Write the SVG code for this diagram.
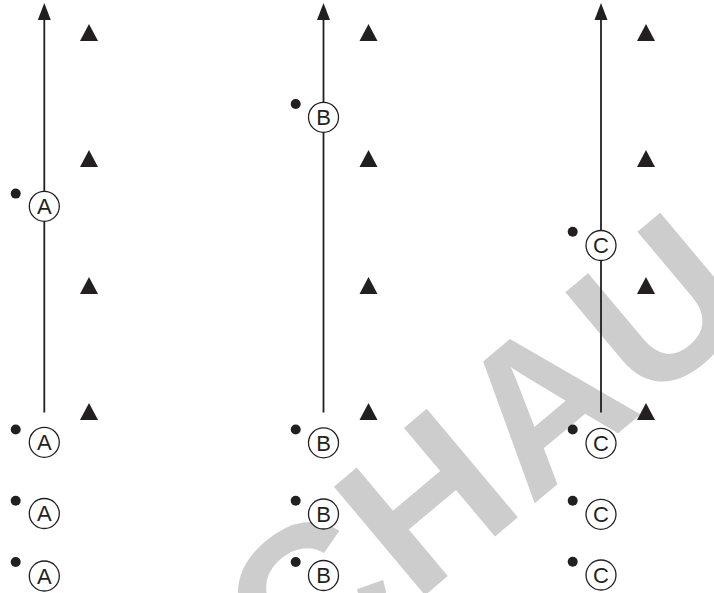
<svg xmlns="http://www.w3.org/2000/svg" width="714" height="593" viewBox="0 0 714 593">
<style>
.wm{font-family:"Liberation Sans",Arial,sans-serif;font-weight:bold;font-size:206px;fill:#cdcdcd;letter-spacing:3px}
.ln{stroke:#231f20;stroke-width:1.8;fill:none}
.ring{fill:#fff;stroke:#231f20;stroke-width:1.3}
.dot{fill:#231f20}
.tri{fill:#231f20}
.lbl{font-family:"Liberation Sans",Arial,sans-serif;font-size:22px;fill:#231f20;text-anchor:middle}
</style>
<defs>
<polygon id="t" class="tri" points="0,0 -9,17 9,17"/>
<polygon id="ah" class="tri" points="0,0 -6.5,17 6.5,17"/>
</defs>
<g id="watermark">
<text class="wm" transform="translate(298.2,701.5) rotate(-40)">CHAU</text>
</g>
<g id="connectors">
<path class="ln" d="M44.3,412.5 V18"/>
<path class="ln" d="M323.5,412.5 V18"/>
<path class="ln" d="M601,412.5 V18"/>
<use href="#ah" x="44.3" y="3"/>
<use href="#ah" x="323.5" y="3"/>
<use href="#ah" x="601" y="3"/>
</g>
<g id="triangles">
<use href="#t" x="89" y="24"/><use href="#t" x="89" y="150"/><use href="#t" x="89" y="277"/><use href="#t" x="89" y="403"/>
<use href="#t" x="368.5" y="24"/><use href="#t" x="368.5" y="150"/><use href="#t" x="368.5" y="277"/><use href="#t" x="368.5" y="403"/>
<use href="#t" x="646" y="24"/><use href="#t" x="646" y="150"/><use href="#t" x="646" y="277"/><use href="#t" x="646" y="403"/>
</g>
<g id="nodeA1"><circle class="dot" cx="15.7" cy="193.6" r="5"/><circle class="ring" cx="44.3" cy="206.3" r="15"/><text class="lbl" x="44.3" y="214.2">A</text></g>
<g id="nodeA2"><circle class="dot" cx="15.7" cy="429.5" r="5"/><circle class="ring" cx="44.3" cy="442.3" r="15"/><text class="lbl" x="44.3" y="450.2">A</text></g>
<g id="nodeA3"><circle class="dot" cx="15.7" cy="500.7" r="5"/><circle class="ring" cx="44.3" cy="513.5" r="15"/><text class="lbl" x="44.3" y="521.4">A</text></g>
<g id="nodeA4"><circle class="dot" cx="15.7" cy="562" r="5"/><circle class="ring" cx="44.3" cy="576" r="15"/><text class="lbl" x="44.3" y="583.9">A</text></g>
<g id="nodeB1"><circle class="dot" cx="295.7" cy="104" r="5"/><circle class="ring" cx="323.5" cy="117.3" r="15"/><text class="lbl" x="323.5" y="125.2">B</text></g>
<g id="nodeB2"><circle class="dot" cx="295.7" cy="429.5" r="5"/><circle class="ring" cx="323.5" cy="442.8" r="15"/><text class="lbl" x="323.5" y="450.7">B</text></g>
<g id="nodeB3"><circle class="dot" cx="295.7" cy="500.7" r="5"/><circle class="ring" cx="323.5" cy="514" r="15"/><text class="lbl" x="323.5" y="521.9">B</text></g>
<g id="nodeB4"><circle class="dot" cx="295.7" cy="562" r="5"/><circle class="ring" cx="323.5" cy="575.5" r="15"/><text class="lbl" x="323.5" y="583.4">B</text></g>
<g id="nodeC1"><circle class="dot" cx="572.7" cy="231.7" r="5"/><circle class="ring" cx="601" cy="245.5" r="15"/><text class="lbl" x="601" y="253.4">C</text></g>
<g id="nodeC2"><circle class="dot" cx="572.7" cy="429.5" r="5"/><circle class="ring" cx="601" cy="443.3" r="15"/><text class="lbl" x="601" y="451.2">C</text></g>
<g id="nodeC3"><circle class="dot" cx="572.7" cy="500.7" r="5"/><circle class="ring" cx="601" cy="514.3" r="15"/><text class="lbl" x="601" y="522.2">C</text></g>
<g id="nodeC4"><circle class="dot" cx="572.7" cy="561.7" r="5"/><circle class="ring" cx="601" cy="575" r="15"/><text class="lbl" x="601" y="582.9">C</text></g>
</svg>
